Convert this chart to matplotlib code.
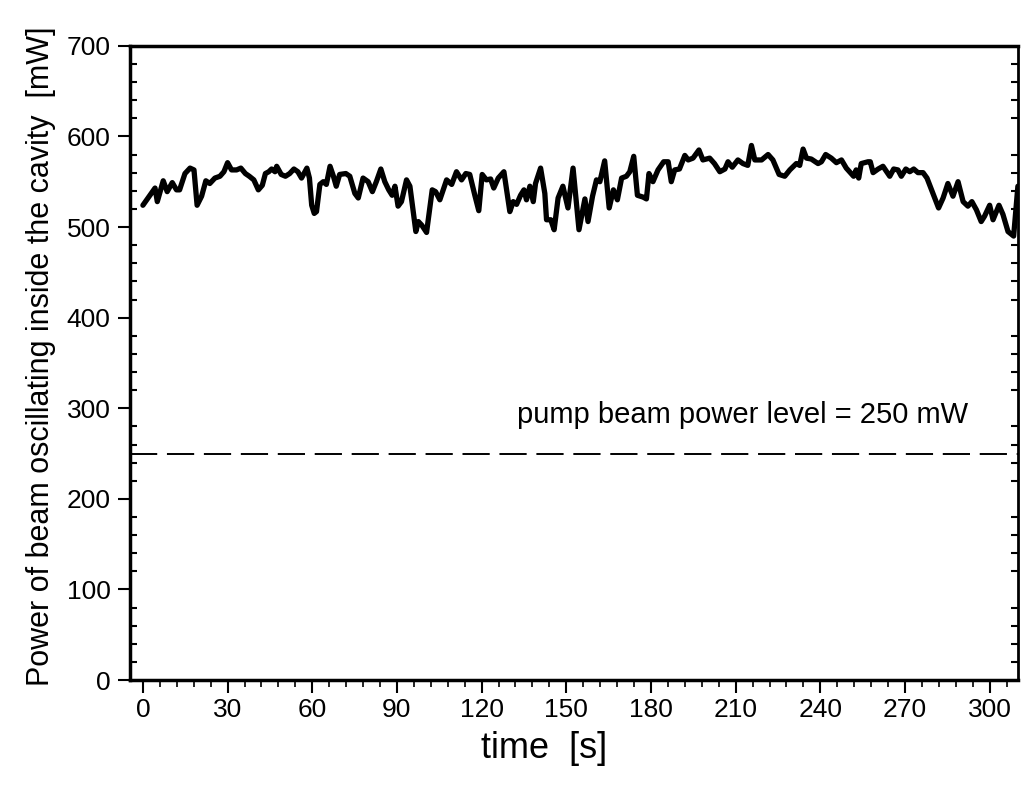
import numpy as np
import matplotlib
matplotlib.use("Agg")
from matplotlib import pyplot as plt
from matplotlib.ticker import MultipleLocator

plt.rcParams['font.family'] = ['Liberation Sans', 'DejaVu Sans']

# time [s] and power [mW]
t = [0, 4.3, 5.1, 7.2, 8.6, 10.4, 11.9, 13.0, 14.9, 16.7, 18.1, 19.2, 20.8,
     22.3, 23.7, 25.5, 27.3, 28.7, 30.0, 31.4, 33.2, 34.7, 36.3, 37.7, 39.3,
     40.9, 42.3, 43.4, 44.6, 45.6, 46.8, 47.4, 49.0, 50.5, 52.0, 53.5, 54.9,
     56.2, 58.1, 59.0, 59.8, 60.7, 61.5, 62.7, 63.9, 65.0, 66.3, 67.5, 68.5,
     69.7, 71.9, 73.3, 75.1, 76.3, 78.0, 79.8, 81.3, 82.7, 84.3, 85.7, 87.1,
     88.3, 89.3, 90.4, 91.6, 93.4, 94.6, 96.7, 97.6, 98.8, 100.5, 102.5,
     103.7, 105.2, 107.6, 109.4, 111.1, 112.9, 114.4, 115.8, 117.6, 119.0,
     120.2, 121.7, 123.2, 124.3, 125.9, 127.9, 130.0, 131.2, 132.4, 133.8,
     135.0, 135.9, 137.1, 138.3, 139.1, 140.9, 142.4, 143.0, 144.5, 145.7,
     147.1, 148.8, 150.6, 152.4, 154.5, 156.6, 157.7, 159.3, 160.7, 161.9,
     163.6, 165.2, 166.7, 168.1, 169.6, 171.3, 172.5, 173.9, 175.2, 177.2,
     178.4, 179.3, 180.7, 182.5, 184.5, 186.1, 187.2, 188.4, 190.1, 192.0,
     193.2, 194.9, 197.0, 198.4, 200.8, 202.5, 204.4, 206.2, 207.3, 208.8,
     210.8, 212.6, 214.3, 215.6, 216.8, 219.2, 221.5, 223.2, 225.4, 227.4,
     229.2, 231.5, 232.7, 233.9, 235.1, 236.8, 239.2, 240.4, 241.9, 243.9,
     245.7, 247.5, 249.2, 251.8, 252.7, 253.6, 254.5, 256.9, 257.7, 258.7,
     260.5, 262.2, 264.6, 266.0, 267.5, 268.7, 270.3, 271.7, 273.1, 274.6,
     276.4, 277.8, 279.9, 281.9, 283.5, 285.2, 287.0, 288.8, 290.6, 292.3,
     293.7, 295.3, 297.0, 298.2, 300.0, 301.2, 303.3, 304.7, 306.5, 308.5,
     309.4, 310.0]
power = [524, 543, 528, 551, 539, 549, 541, 541, 559, 565, 563, 524, 534,
         551, 548, 554, 556, 561, 571, 563, 563, 565, 559, 556, 552,
         541, 546, 559, 561, 564, 561, 567, 558, 556, 559, 564, 561,
         554, 565, 554, 524, 515, 517, 547, 550, 547, 567, 556, 545,
         558, 559, 556, 537, 532, 554, 550, 539, 550, 564, 550, 541,
         535, 545, 523, 528, 552, 545, 495, 506, 502, 494, 541,
         539, 530, 552, 547, 561, 552, 559, 558, 535, 518,
         558, 552, 553, 543, 554, 561, 517, 528, 525, 535,
         541, 530, 545, 528, 548, 565, 537, 508, 508, 497,
         532, 545, 521, 565, 497, 531, 506, 534, 552, 550,
         573, 521, 541, 530, 554, 556, 561, 578, 535, 533,
         531, 559, 550, 563, 572, 572, 550, 563, 564, 579,
         574, 576, 585, 574, 576, 570, 561, 564, 572, 566,
         574, 570, 568, 590, 574, 574, 580, 574, 558, 556,
         563, 570, 568, 586, 576, 575, 570, 572, 580, 576,
         571, 574, 565, 556, 563, 554, 570, 572, 572, 560,
         564, 567, 556, 564, 563, 556, 564, 561, 564, 560,
         560, 554, 537, 521, 532, 548, 534, 550, 528, 523,
         528, 519, 506, 512, 524, 508, 524, 514, 495, 490,
         523, 545]

pump_level = 250
pump_text = "pump beam power level = 250 mW"

fig = plt.figure(figsize=(10.23, 7.89), dpi=100)
ax = fig.add_axes([0.127, 0.138, 0.868, 0.804])

ax.plot(t, power, color='black', linewidth=3.8, solid_joinstyle='round',
        solid_capstyle='round')
ax.axhline(pump_level, color='black', linewidth=1.4, dashes=(14, 5))
ax.text(132.5, 284, pump_text, fontsize=21, ha='left', va='baseline')

ax.set_xlim(-4.6, 310)
ax.set_ylim(0, 700)
ax.xaxis.set_major_locator(MultipleLocator(30))
ax.xaxis.set_minor_locator(MultipleLocator(6))
ax.yaxis.set_major_locator(MultipleLocator(100))
ax.yaxis.set_minor_locator(MultipleLocator(20))

ax.tick_params(axis='x', which='major', direction='out', length=9, width=1.5,
               labelsize=19, pad=4)
ax.tick_params(axis='x', which='minor', direction='out', length=5, width=1.2)
ax.tick_params(axis='y', which='major', direction='out', length=9, width=1.5,
               labelsize=19, pad=5)
ax.tick_params(axis='y', which='minor', direction='in', length=5, width=1.5,
               right=True)

for side in ['left', 'bottom', 'top']:
    ax.spines[side].set_linewidth(2.5)
ax.spines['right'].set_linewidth(2.0)

ax.set_xlabel("time  [s]", fontsize=26)
ax.xaxis.set_label_coords(0.467, -0.08)
ax.set_ylabel("Power of beam oscillating inside the cavity  [mW]", fontsize=22)
ax.yaxis.set_label_coords(-0.083, 0.51)

plt.savefig("out.png", dpi=100)
